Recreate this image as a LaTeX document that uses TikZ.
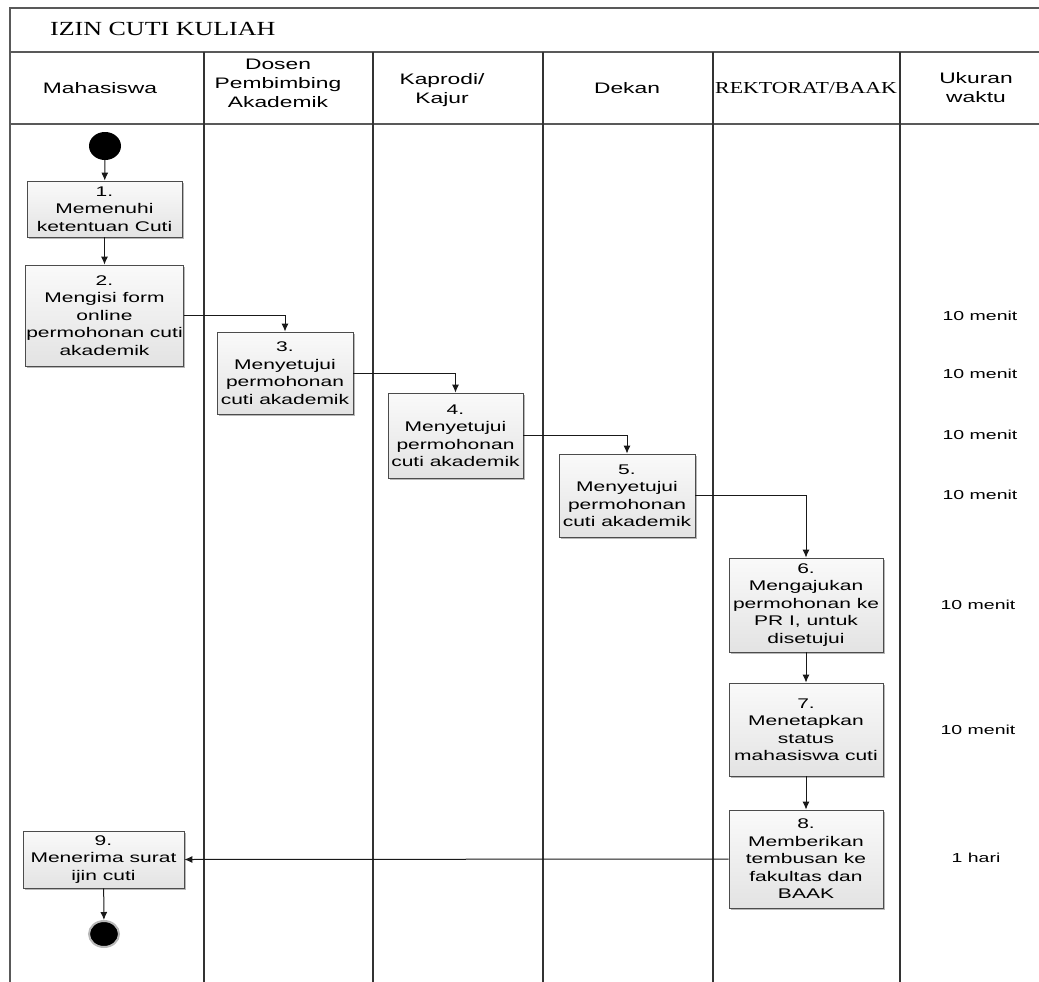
\documentclass[tikz,border=0pt]{standalone}
\usepackage{fontspec}
\setmainfont{Liberation Sans}[FakeStretch=1.5]
\newfontfamily\serifx{Liberation Serif}[FakeStretch=1.3]
\usetikzlibrary{shapes.geometric,arrows.meta,shadows}
\begin{document}
\begin{tikzpicture}[x=1pt,y=-1pt,
  lane/.style={draw=black!80,line width=1.2pt},
  frameline/.style={draw=black!65,line width=1.5pt},
  hdr/.style={align=center,font=\fontsize{15.2}{19}\selectfont,inner sep=0pt},
  act/.style={rectangle,draw=black!70,line width=0.8pt,align=center,
    top color=gray!4,bottom color=gray!22,
    drop shadow={shadow xshift=1.5pt,shadow yshift=-1.8pt,fill=gray!70,opacity=0.8},
    font=\fontsize{14}{17.5}\selectfont,inner sep=1pt},
  tm/.style={font=\fontsize{13}{17.5}\selectfont,inner sep=0pt},
  flow/.style={draw=black!90,line width=1pt,-{Latex[length=8pt,width=7pt]}}
]
\useasboundingbox (0,0) rectangle (1039,982);
% frame
\draw[frameline] (10,982) -- (10,8) -- (1039,8);
\draw[frameline] (10,52) -- (1039,52);
\draw[frameline] (10,124) -- (1039,124);
\foreach \xx in {204,373,543,713,900}{\draw[lane] (\xx,52) -- (\xx,982);}
% title and headers
\node[anchor=west,inner sep=0pt,font=\serifx\fontsize{20}{24}\selectfont] (title) at (50,29) {IZIN CUTI KULIAH};
\node[hdr] (h1) at (100,88) {Mahasiswa};
\node[hdr] (h2) at (278,83) {Dosen\\Pembimbing\\Akademik};
\node[hdr] (h3) at (442,90) {Kaprodi/\\Kajur};
\node[hdr] (h4) at (627,88) {Dekan};
\node[hdr,font=\serifx\fontsize{16.8}{19}\selectfont] (h5) at (806,88) {REKTORAT/BAAK};
\node[hdr] (h6) at (976,88) {Ukuran\\waktu};
% nodes
\node[ellipse,fill=black,minimum width=32pt,minimum height=28pt,inner sep=0pt] (start) at (105,146) {};
\node[act,minimum width=155pt,minimum height=56pt] (b1) at (104.5,209) {1.\\Memenuhi\\ketentuan Cuti};
\node[act,minimum width=155pt,minimum height=101pt] (b2) at (104.5,315.5) {2.\\Mengisi form\\online\\permohonan cuti\\akademik};
\node[act,minimum width=136pt,minimum height=82pt] (b3) at (285,373) {3.\\Menyetujui\\permohonan\\cuti akademik};
\node[act,minimum width=135pt,minimum height=85pt] (b4) at (455.5,435.5) {4.\\Menyetujui\\permohonan\\cuti akademik};
\node[act,minimum width=136pt,minimum height=83pt] (b5) at (627,495.5) {5.\\Menyetujui\\permohonan\\cuti akademik};
\node[act,minimum width=154pt,minimum height=94pt] (b6) at (806,605) {6.\\Mengajukan\\permohonan ke\\PR I, untuk\\disetujui};
\node[act,minimum width=154pt,minimum height=93pt] (b7) at (806,729.5) {7.\\Menetapkan\\status\\mahasiswa cuti};
\node[act,minimum width=154pt,minimum height=98pt] (b8) at (806,859) {8.\\Memberikan\\tembusan ke\\fakultas dan\\BAAK};
\node[act,minimum width=161pt,minimum height=57pt] (b9) at (103.5,859.5) {9.\\Menerima surat\\ijin cuti};
\node[ellipse,fill=black,draw=gray!55,line width=2pt,minimum width=30pt,minimum height=26pt,inner sep=0pt] (end) at (104,934) {};
% time labels
\node[tm] (t2) at (980,316) {10 menit};
\node[tm] (t3) at (980,374) {10 menit};
\node[tm] (t4) at (980,435) {10 menit};
\node[tm] (t5) at (980,495) {10 menit};
\node[tm] (t6) at (978,605) {10 menit};
\node[tm] (t7) at (978,730) {10 menit};
\node[tm] (t8) at (976,858) {1 hari};
% connectors
\draw[flow] (start) -- (b1);
\draw[flow] (b1) -- (b2);
\draw[flow] (b2.east) -| (b3.north);
\draw[flow] (b3.east) -| (b4.north);
\draw[flow] (b4.east) -| (b5.north);
\draw[flow] (b5.east) -| (b6.north);
\draw[flow] (b6) -- (b7);
\draw[flow] (b7) -- (b8);
\draw[flow] (b8.west) -- (b9.east);
\draw[flow] (b9) -- (end);
\end{tikzpicture}
\end{document}
